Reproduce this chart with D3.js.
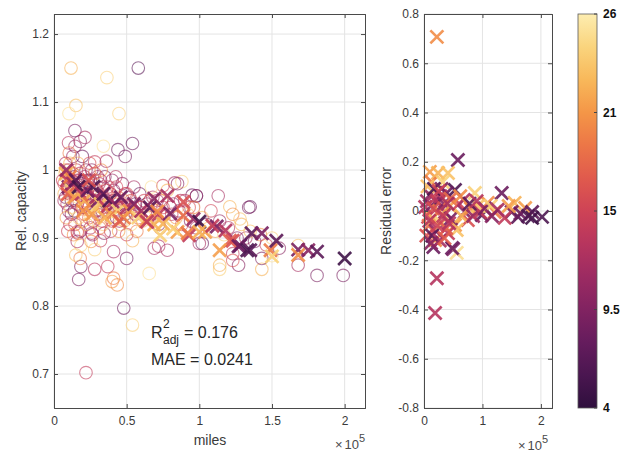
<!DOCTYPE html>
<html>
<head>
<meta charset="utf-8">
<script src="https://cdn.jsdelivr.net/npm/d3@7"></script>
<style>
  body { margin: 0; background: #fff; }
  svg { display: block; font-family: "Liberation Sans", Arial, sans-serif; }
</style>
</head>
<body>
<svg id="chart" width="629" height="456"></svg>
<script>
// observed capacity, circles: [miles, rel. capacity, colour value]
var obsCircles = [
  [11700,1.150,22],[36400,1.136,24],[58000,1.150,7],[15100,1.095,23],[10300,1.083,25],[44700,1.083,24],
  [14400,1.058,9],[21300,1.048,12],[18000,1.042,10],[10000,1.040,13],[14500,1.035,11],[34000,1.035,25],
  [44000,1.030,8],[54000,1.039,8],[49000,1.020,9],[28000,1.012,14],[36000,1.013,12],[83000,0.981,12],
  [88000,0.983,24],[98000,0.962,10],[113000,0.962,12],[134000,0.945,9],[95000,0.963,8],[75000,0.977,15],
  [16500,0.907,14],[22000,0.702,14],[48000,0.797,8],[54000,0.772,24],[18500,0.858,9],[17000,0.839,9],
  [28000,0.854,13],[37000,0.858,14],[41000,0.841,19],[40000,0.836,21],[43500,0.831,20],[50000,0.870,9],
  [41000,0.880,12],[65500,0.848,25],[72000,0.888,13],[78000,0.882,12],[28000,0.883,24],[18500,0.889,24],
  [16000,0.909,17],[26000,0.907,13],[34500,0.907,10],[32000,0.896,14],[54000,0.896,22],[100000,0.892,12],
  [114000,0.854,24],[127000,0.860,10],[123000,0.867,16],[143000,0.854,22],[150000,0.874,25],[168000,0.889,23],
  [168000,0.860,12],[181000,0.845,9],[199000,0.845,9],[143000,0.870,9],
  [85000,0.980,10],[98000,0.962,9],[135000,0.946,8],[69000,0.885,12],[102000,0.892,8],[128000,0.928,23],
  [121000,0.946,22],[123000,0.877,14],[114000,0.860,22],
  [8000,1.000,20],[9000,0.990,24],[7000,0.980,16],[10000,0.970,12],[8000,0.960,9],[9000,0.950,14],
  [11000,1.010,22],[7500,0.995,25],[12000,0.985,18],[10000,0.940,10],[8500,0.930,21],[11000,0.920,13],
  [9500,0.910,15],[12000,0.955,8],[7000,0.965,22],[13000,1.020,11],[10500,1.025,19],[12500,0.975,14],
  [8000,1.010,13],[11500,0.945,24],
  [14000,0.990,9],[15000,0.970,20],[16000,0.950,12],[17000,0.930,24],[14500,0.920,16],[18000,0.910,10],
  [15500,1.000,14],[16500,1.010,22],[19000,0.980,11],[18500,0.960,25],[14000,0.940,7],[20000,0.945,18],
  [17500,0.985,13],[19500,1.020,8],[13500,0.905,20],[16000,0.895,12],[20000,0.925,21],[18000,0.870,19],
  [15000,0.875,23],
  [21000,0.990,12],[22000,0.970,24],[23000,0.950,9],[24000,0.930,17],[25000,0.915,13],[26000,1.000,10],
  [27000,0.980,21],[28000,0.960,14],[29000,0.940,8],[22500,0.920,23],[24500,1.010,16],[26500,0.905,11],
  [28500,0.925,25],[30000,0.990,12],[21500,0.955,19],[23500,0.985,7],[27500,0.945,22],[29500,0.970,15],
  [25500,0.895,20],
  [31000,0.980,13],[32000,0.960,21],[33000,0.940,10],[34000,0.920,24],[35000,0.990,9],[36000,0.970,17],
  [37000,0.950,12],[38000,0.930,22],[39000,0.910,14],[40000,0.985,11],[32500,1.000,20],[34500,0.955,8],
  [36500,0.935,25],[38500,0.965,16],[31500,0.915,19],[39500,0.945,13],
  [41000,0.970,12],[42000,0.950,22],[43000,0.930,9],[44000,0.960,18],[45000,0.940,14],[46000,0.920,24],
  [47000,0.980,10],[48000,0.955,20],[49000,0.935,8],[50000,0.965,16],[42500,0.990,13],[44500,0.910,21],
  [46500,0.945,11],[48500,0.925,23],[50000,0.905,15],
  [52000,0.960,11],[54000,0.940,21],[56000,0.950,9],[58000,0.930,17],[60000,0.945,13],[53000,0.920,24],
  [55000,0.975,12],[57000,0.910,19],[59000,0.965,8],[61000,0.925,22],[62000,0.955,15],
  [64000,0.950,10],[66000,0.930,20],[68000,0.960,13],[70000,0.940,24],[72000,0.920,9],[74000,0.955,18],
  [76000,0.935,12],[78000,0.970,22],[80000,0.945,14],[67000,0.975,25],[73000,0.915,16],
  [82000,0.950,11],[84000,0.930,21],[86000,0.940,9],[88000,0.920,17],[90000,0.955,13],[92000,0.935,24],
  [94000,0.925,10],[96000,0.945,19],[98000,0.915,12],
  [102000,0.930,23],[105000,0.920,9],[108000,0.940,15],[111000,0.910,21],[114000,0.925,11],[117000,0.905,24],
  [120000,0.915,13],[123000,0.935,20],[126000,0.900,10],[129000,0.920,22],
  [132000,0.900,12],[135000,0.910,23],[138000,0.895,9],[142000,0.905,20],[146000,0.890,14],[150000,0.900,24],
  [155000,0.885,10],
  [6000,0.985,14],[7000,0.955,12],[9000,0.975,16],[10000,1.000,13],[11000,0.965,15],[12000,0.935,11],
  [13000,0.995,17],[14000,0.975,13],[15000,0.955,15],[16000,0.985,12],[17000,0.965,16],[18000,0.995,14],
  [19000,0.945,12],[20000,0.975,15],[21000,0.935,17],[22000,1.000,11],[23000,0.965,14],[24000,0.945,16],
  [25000,0.985,12],[26000,0.955,15],[27000,0.925,13],[28000,0.995,17],[29000,0.955,11],[30000,0.935,16],
  [31000,0.965,14],[32000,0.985,12],[33000,0.925,15],[34000,0.975,13],[35000,0.945,17],[36000,0.955,11],
  [37000,0.975,15],[38000,0.945,12],[39000,0.965,14],[40000,0.925,16],[41000,0.955,13],[43000,0.975,15],
  [45000,0.925,12],[47000,0.945,17],[49000,0.965,14],[51000,0.945,13],[53000,0.955,16],[56000,0.935,12],
  [59000,0.945,15],[63000,0.935,13],[66000,0.955,17],[71000,0.955,12],[75000,0.945,15],[81000,0.935,14],
  [87000,0.955,13],[93000,0.945,16]
];

// model fit, crosses: [miles, rel. capacity, colour value]
var fitCrosses = [
  [8000,0.995,22],[9000,0.985,14],[10000,0.975,9],[11000,0.990,19],[12000,0.970,24],[13000,0.980,12],
  [9500,0.965,17],[14000,0.960,21],[8500,1.000,11],[15000,0.985,7],
  [17000,0.975,5],[19000,0.965,13],[21000,0.955,22],[23000,0.970,8],[25000,0.950,18],[27000,0.975,6],
  [28000,0.945,24],[29000,0.960,12],[20000,0.940,20],[24000,0.985,16],[26000,0.935,21],[30000,0.955,9],
  [32000,0.950,23],[34000,0.965,7],[36000,0.945,14],[38000,0.955,6],[40000,0.935,20],[42000,0.950,11],
  [44000,0.940,24],[46000,0.960,8],[48000,0.930,19],[50000,0.945,13],[35000,0.930,22],[45000,0.925,17],
  [52000,0.940,21],[55000,0.950,9],[58000,0.930,24],[60000,0.940,12],[63000,0.925,20],[66000,0.945,7],
  [69000,0.920,22],[72000,0.935,14],
  [71000,0.939,20],[80000,0.936,9],[89000,0.933,18],[69000,0.958,10],[78000,0.962,12],[89000,0.953,16],
  [96000,0.928,11],[73000,0.904,24],[85000,0.909,21],[93000,0.904,14],[75000,0.921,22],
  [100000,0.924,5],[112000,0.917,9],[104000,0.909,21],[118000,0.911,13],[121000,0.896,17],[114000,0.882,21],
  [128000,0.889,8],[135000,0.882,7],[64000,0.924,14],[82000,0.914,24],[92000,0.907,19],[100000,0.909,22],
  [109000,0.918,14],[123000,0.896,16],[127000,0.888,8],[133000,0.882,6],[136000,0.907,7],[143000,0.907,9],
  [149000,0.882,19],[150000,0.873,24],[153000,0.896,7],[168000,0.883,9],[168000,0.875,20],[175000,0.882,10],
  [181000,0.880,7],[200000,0.870,5]
];

// residuals, crosses: [miles, residual error, colour value]
var residCrosses = [
  [22000,0.707,20],[58000,0.207,8],[22000,-0.273,13],[19000,-0.414,13],[16000,-0.146,8],[50000,-0.155,9],
  [56000,-0.170,25],[10000,0.159,21],[24000,0.154,22],[41000,0.154,23],[13000,0.118,19],[32000,0.118,24],
  [53000,0.085,6],[39000,0.073,8],[24000,0.037,5],[10000,0.065,10],[133000,0.073,8],[87000,0.073,24],
  [109000,0.033,20],[155000,0.033,22],[173000,0.012,21],[185000,-0.004,7],[202000,-0.024,6],[150000,-0.004,9],
  [161000,-0.024,7],[185000,-0.028,5],[138000,-0.028,14],[121000,-0.004,19],[99000,-0.016,7],[70000,-0.004,10],
  [75000,-0.037,16],[53000,-0.057,21],[56000,-0.077,23],[41000,-0.090,14],[19000,-0.118,20],[48000,-0.150,8],
  [7000,-0.024,15],[2000,0.016,13],[36000,-0.004,12],
  [5000,0.040,12],[8000,-0.060,18],[12000,0.020,9],[15000,-0.030,22],[18000,0.050,14],[20000,-0.080,11],
  [26000,0.000,19],[28000,0.060,13],[30000,-0.050,24],[34000,0.030,10],[38000,-0.070,17],[44000,0.020,21],
  [46000,-0.030,9],[60000,0.030,15],[64000,-0.020,22],[68000,0.045,12],[80000,0.010,20],[84000,-0.020,11],
  [92000,0.020,23],[96000,-0.005,14],[104000,0.010,9],[114000,0.020,24],[126000,0.005,12],[4000,-0.100,16],
  [14000,-0.100,7],[27000,-0.120,12],[6000,0.100,23],[17000,0.090,6],[30000,0.090,9],[45000,0.050,18],
  [62000,0.060,20],[78000,0.030,7],[90000,0.040,13],[116000,-0.020,10],[145000,0.020,21],[165000,-0.010,8],
  [178000,-0.020,6],
  [9000,-0.040,13],[16000,0.010,16],[23000,-0.060,15],[33000,-0.020,14],[40000,0.030,12],[12000,-0.130,10],
  [35000,-0.110,17],[43000,-0.050,13],[25000,0.080,15]
];

var leftXTicks = [0, 50000, 100000, 150000, 200000];
var leftYTicks = [0.7, 0.8, 0.9, 1, 1.1, 1.2];
var rightXTicks = [0, 100000, 200000];
var rightYTicks = [-0.8, -0.6, -0.4, -0.2, 0, 0.2, 0.4, 0.6, 0.8];
var cbarTicks = [4, 9.5, 15, 20.5, 26];
var cbarLabels = ["4", "9.5", "15", "21", "26"];

// cmocean "matter", dark to light
var matterColors = ["#2f0f3d", "#4a1650", "#651c5d", "#812361", "#9c2b62", "#b7355e", "#ce4356",
                    "#e05a4d", "#ec7647", "#f49647", "#f8b85a", "#fad47d", "#fdedb0"];

var svg = d3.select("#chart");
var color = d3.scaleLinear()
  .domain(matterColors.map(function (c, i) { return 4 + 22 * i / (matterColors.length - 1); }))
  .range(matterColors);

var plotTop = 14, plotBottom = 408;
var crossPath = "M-6.5,-6.5L6.5,6.5M-6.5,6.5L6.5,-6.5";

function fmt(v) { return String(Math.round(v * 100) / 100); }

function drawAxes(x, y, xTicks, yTicks, xFmt) {
  var x0 = x.range()[0], x1 = x.range()[1];
  var g = svg.append("g");
  // grid
  g.selectAll(".gx").data(xTicks).enter().append("line")
    .attr("x1", function (d) { return x(d); }).attr("x2", function (d) { return x(d); })
    .attr("y1", plotTop).attr("y2", plotBottom)
    .attr("stroke", "#e4e4e4").attr("stroke-width", 1);
  g.selectAll(".gy").data(yTicks).enter().append("line")
    .attr("y1", function (d) { return y(d); }).attr("y2", function (d) { return y(d); })
    .attr("x1", x0).attr("x2", x1)
    .attr("stroke", "#e4e4e4").attr("stroke-width", 1);
  return function frame() {
    var f = svg.append("g").attr("class", "frame");
    f.append("g").attr("transform", "translate(0," + plotBottom + ")")
      .call(d3.axisBottom(x).tickValues(xTicks).tickSize(-4).tickPadding(8).tickFormat(xFmt));
    f.append("g").attr("transform", "translate(0," + plotTop + ")")
      .call(d3.axisTop(x).tickValues(xTicks).tickSize(-4).tickFormat(""));
    f.append("g").attr("transform", "translate(" + x0 + ",0)")
      .call(d3.axisLeft(y).tickValues(yTicks).tickSize(-4).tickPadding(5).tickFormat(fmt));
    f.append("g").attr("transform", "translate(" + x1 + ",0)")
      .call(d3.axisRight(y).tickValues(yTicks).tickSize(-4).tickFormat(""));
    f.selectAll(".domain").attr("stroke", "#4a4a4a").attr("stroke-width", 1);
    f.selectAll(".tick line").attr("stroke", "#4a4a4a");
    f.selectAll(".tick text").attr("fill", "#3a3a3a").style("font-size", "12px")
      .style("font-family", '"Liberation Sans", Arial, sans-serif');
  };
}

// ---- left panel: capacity vs miles
var xL = d3.scaleLinear().domain([0, 214000]).range([54, 365]);
var yL = d3.scaleLinear().domain([0.65, 1.2295]).range([plotBottom, plotTop]);
var frameL = drawAxes(xL, yL, leftXTicks, leftYTicks, function (d) { return fmt(d / 1e5); });

svg.append("g").selectAll("circle").data(obsCircles).enter().append("circle")
  .attr("cx", function (d) { return xL(d[0]); })
  .attr("cy", function (d) { return yL(d[1]); })
  .attr("r", 6.3)
  .attr("fill", "none")
  .attr("stroke", function (d) { return color(d[2]); })
  .attr("stroke-width", 1.1)
  .attr("stroke-opacity", 0.6);

svg.append("g").selectAll("path").data(fitCrosses).enter().append("path")
  .attr("transform", function (d) { return "translate(" + xL(d[0]) + "," + yL(d[1]) + ")"; })
  .attr("d", crossPath)
  .attr("fill", "none")
  .attr("stroke", function (d) { return color(d[2]); })
  .attr("stroke-width", 2.7)
  .attr("stroke-opacity", 0.9);
frameL();

// ---- right panel: residuals
var xR = d3.scaleLinear().domain([0, 219000]).range([424, 552]);
var yR = d3.scaleLinear().domain([-0.8, 0.8]).range([plotBottom, plotTop]);
var frameR = drawAxes(xR, yR, rightXTicks, rightYTicks, function (d) { return fmt(d / 1e5); });

svg.append("g").selectAll("path").data(residCrosses).enter().append("path")
  .attr("transform", function (d) { return "translate(" + xR(d[0]) + "," + yR(d[1]) + ")"; })
  .attr("d", crossPath)
  .attr("fill", "none")
  .attr("stroke", function (d) { return color(d[2]); })
  .attr("stroke-width", 2.7)
  .attr("stroke-opacity", 0.9);
frameR();

// axis titles
svg.append("text").attr("x", 210).attr("y", 445).attr("text-anchor", "middle")
  .attr("fill", "#3a3a3a").style("font-size", "14px").text("miles");
svg.append("text").attr("transform", "translate(26,211) rotate(-90)").attr("text-anchor", "middle")
  .attr("fill", "#3a3a3a").style("font-size", "14px").text("Rel. capacity");
svg.append("text").attr("transform", "translate(391,211) rotate(-90)").attr("text-anchor", "middle")
  .attr("fill", "#3a3a3a").style("font-size", "14px").text("Residual error");

function expLabel(xp, yp) {
  var t = svg.append("text").attr("x", xp).attr("y", yp).attr("fill", "#4a4a4a").style("font-size", "13px");
  t.append("tspan").text("\u00d7");
  t.append("tspan").attr("dx", 2).text("10");
  t.append("tspan").attr("dy", -7).style("font-size", "11px").text("5");
}
expLabel(335, 449);
expLabel(518, 450);

// fit statistics
var stats = svg.append("g").attr("fill", "#262626").style("font-size", "16px");
stats.append("text").attr("x", 151).attr("y", 338).text("R");
stats.append("text").attr("x", 163).attr("y", 328).style("font-size", "12px").text("2");
stats.append("text").attr("x", 163).attr("y", 344).style("font-size", "12px").text("adj");
stats.append("text").attr("x", 184).attr("y", 338).text("= 0.176");
stats.append("text").attr("x", 151).attr("y", 365).text("MAE = 0.0241");

// ---- colour bar
var cb = { x: 578, w: 19 };
var yC = d3.scaleLinear().domain([4, 26]).range([plotBottom, plotTop]);
var grad = svg.append("defs").append("linearGradient").attr("id", "cbar")
  .attr("x1", 0).attr("y1", 1).attr("x2", 0).attr("y2", 0);
grad.selectAll("stop").data(color.domain()).enter().append("stop")
  .attr("offset", function (d) { return (d - 4) / 22; })
  .attr("stop-color", function (d) { return color(d); });
svg.append("rect").attr("x", cb.x).attr("y", plotTop).attr("width", cb.w).attr("height", plotBottom - plotTop)
  .attr("fill", "url(#cbar)").attr("stroke", "#5a5a5a").attr("stroke-width", 0.8);
svg.append("g").selectAll("line").data(cbarTicks).enter().append("line")
  .attr("x1", cb.x + cb.w - 3).attr("x2", cb.x + cb.w)
  .attr("y1", function (d) { return yC(d); }).attr("y2", function (d) { return yC(d); })
  .attr("stroke", "#444");
svg.append("g").selectAll("text").data(cbarTicks).enter().append("text")
  .attr("x", cb.x + cb.w + 6)
  .attr("y", function (d) { return yC(d); })
  .attr("dy", "0.35em")
  .attr("fill", "#111").style("font-size", "12px").style("font-weight", "bold")
  .text(function (d, i) { return cbarLabels[i]; });
</script>
</body>
</html>
